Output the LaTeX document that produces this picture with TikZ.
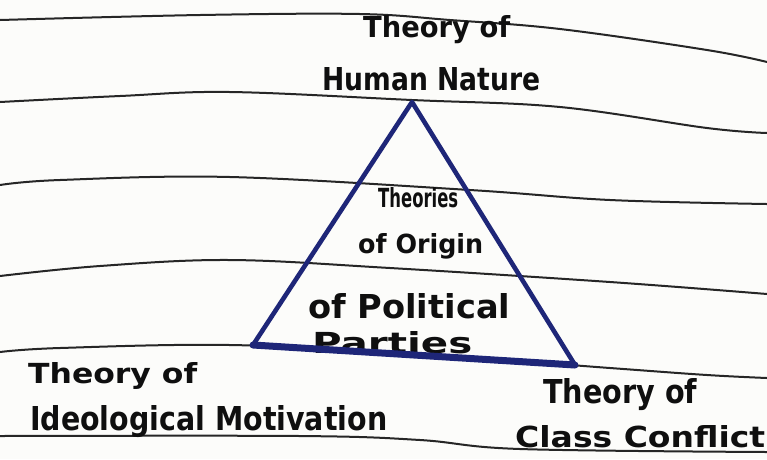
\documentclass[tikz,border=0pt]{standalone}
\usepackage{fontspec}
\setmainfont{DejaVu Sans}
\usepackage{graphicx}
\definecolor{inkblue}{RGB}{30,38,120}
\definecolor{pencil}{RGB}{15,15,15}
\definecolor{paper}{RGB}{252,252,250}
\newcommand{\hwtext}[3]{\resizebox{#1pt}{#2pt}{\bfseries #3}}
\begin{document}
\begin{tikzpicture}[x=1pt,y=-1pt,
  rule/.style={draw=black!85, line width=2pt, line cap=round},
  lbl/.style={anchor=base west, inner sep=0pt, text=pencil},
  tri/.style={draw=inkblue, line width=4.6pt, line join=round, line cap=round},
  base/.style={draw=inkblue, line width=7pt, line cap=round}]
\fill[paper] (0,0) rectangle (767,459);
\useasboundingbox (0,0) rectangle (767,459);

% ruled lines of the paper
\draw[rule] plot[smooth, tension=0.6] coordinates {(0,20) (200,15) (360,14) (450,20) (560,29) (707,50) (767,62)};
\draw[rule] plot[smooth, tension=0.6] coordinates {(0,102) (120,96) (230,92) (412,100) (560,107) (707,128) (767,133)};
\draw[rule] plot[smooth, tension=0.6] coordinates {(0,185) (60,180) (230,177) (470,190) (610,200) (767,204)};
\draw[rule] plot[smooth, tension=0.6] coordinates {(0,276) (100,266) (230,260) (390,268) (610,282) (767,294)};
\draw[rule] plot[smooth, tension=0.6] coordinates {(0,352) (60,348) (230,345) (420,354) (610,368) (707,375) (767,378)};
\draw[rule] plot[smooth, tension=0.6] coordinates {(0,436) (300,436) (420,440) (520,449) (767,452)};

% labels
\node[lbl] (thn1) at (363,37) {\hwtext{147}{22}{Theory of}};
\node[lbl] (thn2) at (322,90) {\hwtext{218}{23}{Human Nature}};
\node[lbl] (c1) at (378,207) {\hwtext{80}{20}{Theories}};
\node[lbl] (c2) at (358,253) {\hwtext{125}{20}{of Origin}};
\node[lbl] (c3) at (308,318) {\hwtext{202}{25}{of Political}};
\node[lbl] (c4) at (312,353) {\hwtext{160}{22}{Parties}};
\node[lbl] (tim1) at (28,383) {\hwtext{169}{21}{Theory of}};
\node[lbl] (tim2) at (30,430) {\hwtext{357}{25}{Ideological Motivation}};
\node[lbl] (tcc1) at (543,403) {\hwtext{154}{25}{Theory of}};
\node[lbl] (tcc2) at (515,447) {\hwtext{250}{22}{Class Conflict}};

% triangle
\coordinate (A) at (412,102);
\coordinate (B) at (253,345);
\coordinate (C) at (575,365);
\draw[tri] (B) -- (A) -- (C);
\draw[base] (B) -- (C);
\end{tikzpicture}
\end{document}
